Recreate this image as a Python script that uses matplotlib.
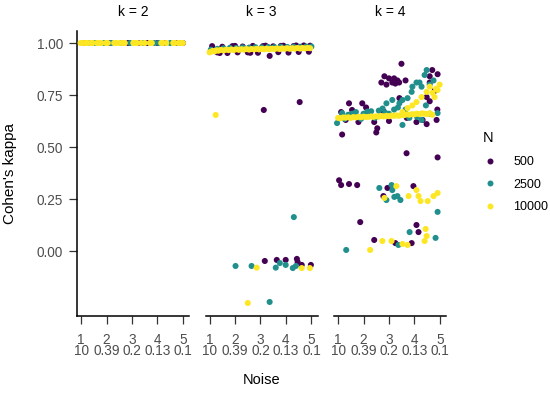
import numpy as np
import matplotlib
matplotlib.use('Agg')
import matplotlib.pyplot as plt
from matplotlib.lines import Line2D

plt.rcParams['font.family'] = ['Liberation Sans', 'DejaVu Sans']

# Werte
n_levels = ['500', '2500', '10000']
k_levels = [2, 3, 4]
colors = ['#440154', '#21908C', '#FDE725']

tick_pos = [1, 2, 3, 4, 5]
tick_labels = ['1\n10', '2\n0.39', '3\n0.2', '4\n0.13', '5\n0.1']

# k = 2
k2_x_500 = [1.1, 1.6, 2.1, 2.85, 3.3, 3.6, 4.0, 4.3, 4.77, 5.0]
k2_y_500 = [1.0, 1.0, 1.0, 1.0, 1.0, 1.0, 1.0, 1.0, 1.0, 1.0]
k2_x_2500 = [1.3, 1.55, 1.9, 2.2, 2.6, 2.93, 3.45, 3.87, 4.05, 4.5, 4.9]
k2_y_2500 = [1.0, 1.0, 1.0, 1.0, 1.0, 1.0, 1.0, 1.0, 1.0, 1.0, 1.0]
k2_x_10000 = [0.98, 1.08, 1.18, 1.26, 1.38, 1.45, 1.62, 1.7, 1.8, 1.98, 2.05, 2.3,
              2.38, 2.5, 2.62, 2.72, 3.05, 3.12, 3.2, 3.35, 3.5, 3.7, 3.78, 4.15,
              4.22, 4.35, 4.62, 4.68, 4.82, 4.92, 5.0]
k2_y_10000 = [1.0, 1.0, 1.0, 1.0, 1.0, 1.0, 1.0, 1.0, 1.0, 1.0, 1.0, 1.0,
              1.0, 1.0, 1.0, 1.0, 1.0, 1.0, 1.0, 1.0, 1.0, 1.0, 1.0, 1.0,
              1.0, 1.0, 1.0, 1.0, 1.0, 1.0, 1.0]

# k = 3
k3_x_500 = [1.1, 1.3, 1.5, 1.7, 1.9, 2.1, 2.3, 2.5, 2.7, 2.9, 3.1, 3.36, 3.5, 3.7,
            3.9, 4.1, 4.3, 4.5, 4.7, 4.9, 1.4, 2.0, 2.6, 3.2, 3.8, 4.4, 4.95,
            3.13, 4.54, 3.17, 3.64, 3.99, 4.43, 4.46, 4.62, 4.98]
k3_y_500 = [0.985, 0.955, 0.982, 0.952, 0.985, 0.955, 0.983, 0.955, 0.986, 0.953,
            0.985, 0.938, 0.984, 0.956, 0.987, 0.954, 0.985, 0.957, 0.988, 0.958,
            0.952, 0.986, 0.953, 0.987, 0.986, 0.988, 0.987,
            0.678, 0.716, -0.048, -0.043, -0.043, -0.038, -0.053, -0.067, -0.067]
k3_x_2500 = [1.05, 1.3, 1.55, 1.8, 2.05, 2.3, 2.55, 2.8, 3.05, 3.3, 3.55, 3.8, 4.05,
             4.3, 4.55, 4.8, 5.0,
             2.02, 2.65, 3.6, 3.76, 3.99, 4.27, 4.39, 4.31, 3.36]
k3_y_2500 = [0.968, 0.972, 0.975, 0.977, 0.976, 0.979, 0.978, 0.98, 0.979, 0.981,
             0.98, 0.982, 0.981, 0.982, 0.982, 0.983, 0.983,
             -0.072, -0.072, -0.08, -0.058, -0.067, -0.082, -0.072, 0.163, -0.245]
k3_x_10000 = [1.0, 1.06, 1.12, 1.2, 1.28, 1.35, 1.45, 1.55, 1.65, 1.75, 1.85, 1.95,
              2.05, 2.15, 2.25, 2.35, 2.45, 2.55, 2.65, 2.75, 2.85, 2.95, 3.05, 3.15,
              3.25, 3.35, 3.45, 3.55, 3.65, 3.75, 3.85, 3.95, 4.05, 4.15, 4.25, 4.35,
              4.45, 4.55, 4.65, 4.75, 4.85, 4.95,
              1.24, 2.5, 2.85, 4.62, 4.94]
k3_y_10000 = [0.955, 0.958, 0.962, 0.960, 0.965, 0.963, 0.967, 0.964, 0.968, 0.966,
              0.969, 0.966, 0.970, 0.967, 0.970, 0.968, 0.971, 0.968, 0.971, 0.969,
              0.972, 0.969, 0.972, 0.970, 0.973, 0.970, 0.973, 0.971, 0.974, 0.971,
              0.974, 0.972, 0.975, 0.972, 0.975, 0.973, 0.976, 0.973, 0.976, 0.974,
              0.976, 0.975,
              0.654, -0.25, -0.08, -0.082, -0.082]

# k = 4
k4_x_500 = [1.12, 1.43, 1.55, 1.95, 2.1, 2.42, 2.54, 2.5, 1.16, 3.41, 4.08, 4.48,
            4.87, 4.32, 1.8, 2.8, 3.0, 3.7, 4.6, 4.9, 1.3, 2.2,
            3.49, 2.7, 2.82, 3.0, 3.2, 3.33, 3.13, 3.4, 3.65, 2.9, 3.25, 4.6, 4.91,
            4.79, 4.6, 4.48, 4.7,
            3.69, 4.91, 1.04, 1.12, 1.43, 1.75, 2.94, 2.78, 3.96, 1.87, 2.42, 3.25,
            3.89, 4.08, 4.16]
k4_y_500 = [0.668, 0.71, 0.678, 0.71, 0.69, 0.62, 0.59, 0.57, 0.56, 0.735, 0.62, 0.61,
            0.63, 0.63, 0.62, 0.67, 0.625, 0.64, 0.72, 0.68, 0.63, 0.665,
            0.90, 0.81, 0.84, 0.83, 0.83, 0.82, 0.81, 0.81, 0.82, 0.80, 0.805, 0.84,
            0.85, 0.77, 0.81, 0.74, 0.87,
            0.47, 0.45, 0.34, 0.317, 0.322, 0.317, 0.303, 0.264, 0.312, 0.139, 0.053,
            0.038, 0.038, 0.125, 0.091]
k4_x_2500 = [0.96, 1.16, 1.4, 1.7, 2.0, 2.3, 2.6, 2.9, 3.0, 3.2, 3.53, 3.8, 4.28, 4.6,
             4.91, 1.9, 2.45, 2.75, 3.35, 4.1, 1.25, 1.55, 2.15, 2.85, 3.65, 4.45,
             3.41, 3.53, 3.73, 3.89, 3.92, 4.08, 4.2, 4.4, 4.48, 4.28, 4.6, 4.75, 3.13,
             2.62, 3.1, 3.13, 2.9, 3.21, 3.33, 3.45, 4.91, 1.32, 3.37, 3.81, 4.83]
k4_y_2500 = [0.615, 0.663, 0.655, 0.668, 0.66, 0.672, 0.675, 0.71, 0.66, 0.68, 0.606,
             0.64, 0.63, 0.66, 0.663, 0.635, 0.64, 0.685, 0.69, 0.645, 0.635, 0.66,
             0.67, 0.665, 0.68, 0.70,
             0.71, 0.726, 0.735, 0.765, 0.79, 0.81, 0.81, 0.846, 0.87, 0.79, 0.80,
             0.82, 0.726,
             0.303, 0.317, 0.293, 0.245, 0.26, 0.264, 0.245, 0.188, 0.005, 0.029,
             0.091, 0.063]
k4_x_10000 = [1.0, 1.1, 1.2, 1.3, 1.4, 1.5, 1.6, 1.7, 1.8, 1.9, 2.0, 2.1, 2.2, 2.3,
              2.4, 2.5, 2.6, 2.7, 2.8, 2.9, 3.0, 3.1, 3.2, 3.3, 3.4, 3.5, 3.6, 3.7,
              3.8, 3.9, 4.0, 4.1, 4.2, 4.3, 4.4, 4.5, 4.6, 4.7,
              3.53, 3.73, 3.92, 4.08, 4.28, 4.48, 4.6, 4.71, 4.79, 4.91, 4.99, 4.85,
              3.29, 2.82, 3.77, 4.08, 4.16, 4.24, 4.52, 4.75, 4.91, 2.74, 2.26, 3.1,
              3.53, 3.73, 4.44, 4.48, 4.4]
k4_y_10000 = [0.640, 0.638, 0.642, 0.641, 0.643, 0.640, 0.644, 0.642, 0.645, 0.643,
              0.646, 0.644, 0.645, 0.647, 0.645, 0.648, 0.646, 0.649, 0.647, 0.650,
              0.648, 0.651, 0.650, 0.652, 0.650, 0.655, 0.653, 0.657, 0.655, 0.658,
              0.657, 0.660, 0.658, 0.662, 0.660, 0.658, 0.662, 0.655,
              0.668, 0.687, 0.70, 0.716, 0.74, 0.765, 0.79, 0.76, 0.74, 0.774, 0.80,
              0.78,
              0.312, 0.255, 0.264, 0.293, 0.264, 0.24, 0.24, 0.264, 0.279, 0.048,
              0.005, 0.048, 0.034, 0.029, 0.106, 0.072, 0.048]

panels = {
    2: [(k2_x_500, k2_y_500), (k2_x_2500, k2_y_2500), (k2_x_10000, k2_y_10000)],
    3: [(k3_x_500, k3_y_500), (k3_x_2500, k3_y_2500), (k3_x_10000, k3_y_10000)],
    4: [(k4_x_500, k4_y_500), (k4_x_2500, k4_y_2500), (k4_x_10000, k4_y_10000)],
}

fig = plt.figure(figsize=(5.5, 3.95), dpi=100)
lefts = [77, 205.5, 334]
grey = '#4D4D4D'

for i, k in enumerate(k_levels):
    ax = fig.add_axes([lefts[i] / 550, 1 - 316 / 395, 112 / 550, 285 / 395])
    for (xs, ys), c in zip(panels[k], colors):
        ax.scatter(xs, ys, s=19, color=c, edgecolors='none', zorder=3)
    ax.set_xlim(0.84, 5.24)
    ax.set_ylim(-0.3125, 1.0577)
    ax.set_xticks(tick_pos)
    ax.set_xticklabels(tick_labels, linespacing=0.78)
    ax.tick_params(axis='both', labelsize=9.8, labelcolor=grey, color='#333333',
                   length=6, width=0.9, pad=4)
    ax.tick_params(axis='x', pad=6)
    for s in ['top', 'right']:
        ax.spines[s].set_visible(False)
    ax.spines['bottom'].set_linewidth(1.1)
    if i == 0:
        ax.set_yticks([0, 0.25, 0.5, 0.75, 1.0])
        ax.set_yticklabels(['0.00', '0.25', '0.50', '0.75', '1.00'])
        ax.spines['left'].set_linewidth(1.1)
    else:
        ax.spines['left'].set_visible(False)
        ax.set_yticks([])
    ax.set_title('k = %d' % k, fontsize=10, pad=11)

fig.text(262 / 550, 1 - 380 / 395, 'Noise', ha='center', va='center', fontsize=10.5)
fig.text(10 / 550, 1 - 174 / 395, "Cohen's kappa", ha='center', va='center',
         rotation=90, fontsize=11)

handles = [Line2D([], [], marker='o', linestyle='none', markersize=4.3,
                  markerfacecolor=c, markeredgecolor='none') for c in colors]
leg = fig.legend(handles, n_levels, title='N', loc='upper left',
                 bbox_to_anchor=(472 / 550, 1 - 120 / 395), frameon=False,
                 fontsize=9, title_fontsize=10.5, labelspacing=0.85,
                 handletextpad=1.4, handlelength=1.0)
leg._legend_box.align = 'left'

fig.savefig('out.png', dpi=100)
